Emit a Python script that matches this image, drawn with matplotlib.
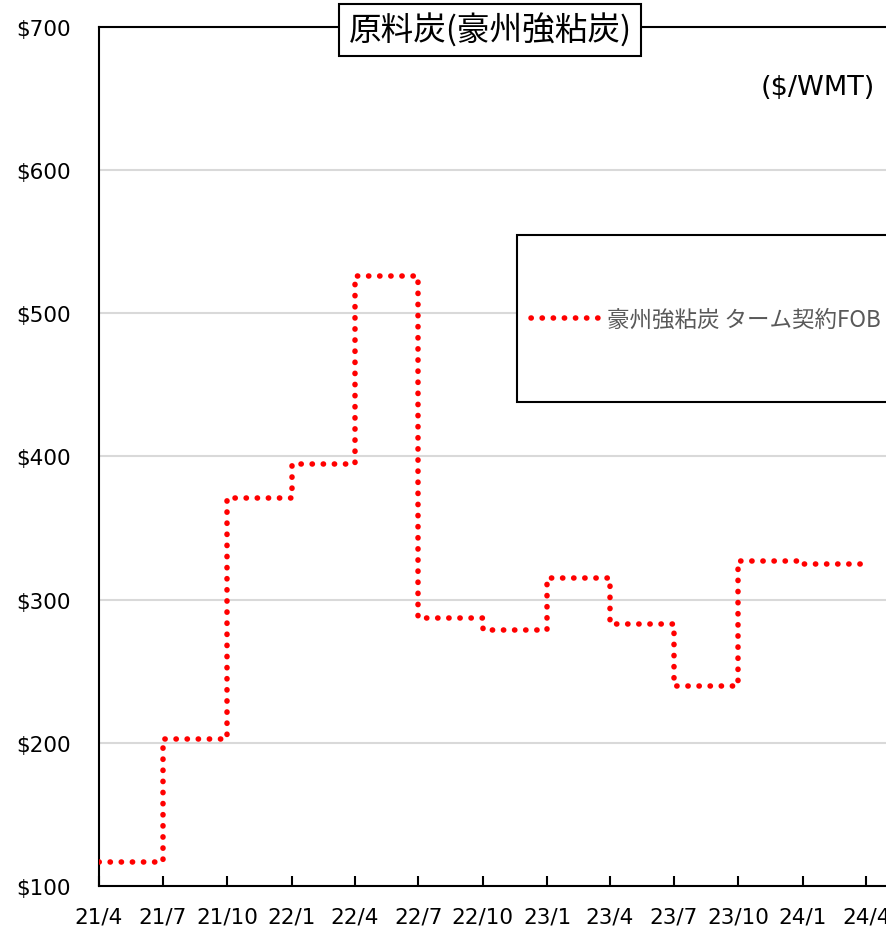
import matplotlib
matplotlib.use("Agg")
import matplotlib.pyplot as plt
from matplotlib.patches import Rectangle
import pandas as pd

plt.rcParams['font.family'] = ['DejaVu Sans', 'Noto Sans CJK JP']

# Quarterly term contract prices (start of each pricing quarter)
quarter_starts = ["2021-04-01", "2021-07-01", "2021-10-01", "2022-01-01",
                  "2022-04-01", "2022-07-01", "2022-10-01", "2023-01-01",
                  "2023-04-01", "2023-07-01", "2023-10-01", "2024-01-01"]
prices = [117, 203, 371, 395, 526, 287, 279, 315, 283, 240, 327, 325]
series_end = "2024-03-25"

tick_dates = ["2021-04-01", "2021-07-01", "2021-10-01", "2022-01-01",
              "2022-04-01", "2022-07-01", "2022-10-01", "2023-01-01",
              "2023-04-01", "2023-07-01", "2023-10-01", "2024-01-01",
              "2024-04-01"]
tick_labels = ["21/4", "21/7", "21/10", "22/1", "22/4", "22/7", "22/10",
               "23/1", "23/4", "23/7", "23/10", "24/1", "24/4"]
y_ticks = [100, 200, 300, 400, 500, 600, 700]

title = "原料炭(豪州強粘炭)"
series_name = "豪州強粘炭 ターム契約FOB"
unit = "($/WMT)"

W, H = 887, 929
fig = plt.figure(figsize=(W / 100, H / 100), dpi=100)

left_px, right_px = 99, 930
top_px, bottom_px = 28, 887
ax = fig.add_axes([left_px / W, 1 - bottom_px / H,
                   (right_px - left_px) / W, (bottom_px - top_px) / H])

x = pd.to_datetime(quarter_starts + [series_end])
y = prices + [prices[-1]]
line, = ax.plot(x, y, drawstyle="steps-post", color="#ff0000", lw=4.0,
                linestyle=(0, (0.05, 1.95)), dash_capstyle="round",
                label=series_name, zorder=3)

ax.set_xlim(pd.Timestamp("2021-04-01"), pd.Timestamp("2024-07-01"))
ax.set_ylim(100, 700)
ax.set_yticks(y_ticks)
ax.set_yticklabels([f"${v}" for v in y_ticks])
ax.set_xticks(pd.to_datetime(tick_dates))
ax.set_xticklabels(tick_labels)

ax.grid(axis="y", color="#d9d9d9", lw=1.5)
ax.set_axisbelow(True)
for side in ["left", "top", "bottom", "right"]:
    ax.spines[side].set_color("black")
    ax.spines[side].set_linewidth(1.5)

ax.tick_params(axis="y", length=0, pad=20, labelsize=15.5, colors="black")
ax.tick_params(axis="x", direction="in", length=7, width=1.5, pad=15,
               labelsize=15.5, colors="black")

# Title in a framed box on the top spine
fig.text(490 / W, 1 - 31 / H, title, ha="center", va="center", fontsize=23.5,
         family=["Noto Sans CJK JP", "DejaVu Sans"],
         bbox=dict(boxstyle="square,pad=0.28", fc="white", ec="black", lw=1.5),
         zorder=5)

fig.text(875 / W, 1 - 88 / H, unit, ha="right", va="center", fontsize=19.5)

# Legend box
fig.patches.append(Rectangle((517 / W, 1 - 403 / H), (W + 10 - 517) / W,
                             (403 - 236) / H, transform=fig.transFigure,
                             fc="white", ec="black", lw=1.5, zorder=4))
leg = fig.legend(handles=[line], loc="center left",
                 bbox_to_anchor=(524 / W, 1 - 320 / H), frameon=False,
                 prop={"family": ["Noto Sans CJK JP", "DejaVu Sans"], "size": 16.2},
                 handlelength=3.0, handletextpad=0.4, borderaxespad=0,
                 borderpad=0.3)
leg.set_zorder(6)
for t in leg.get_texts():
    t.set_color("#595959")

fig.savefig("out.png", dpi=100)
